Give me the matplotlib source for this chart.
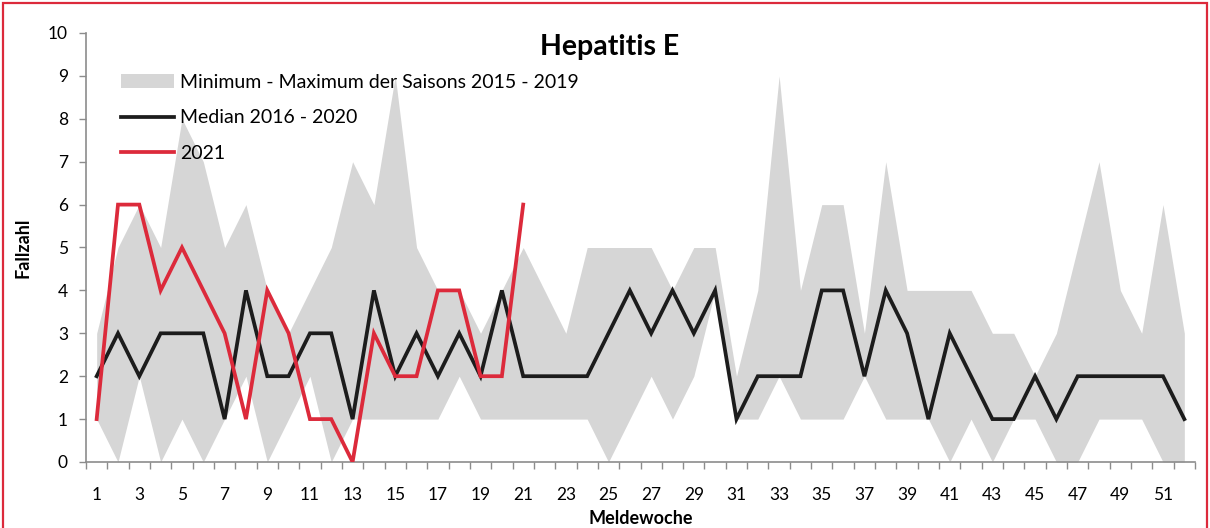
import numpy as np
import matplotlib.pyplot as plt
from matplotlib.patches import Rectangle

# ------------------------------------------------------------------
# Data
# ------------------------------------------------------------------
weeks = list(range(1, 53))

band_max = [3, 5, 6, 5, 8, 7, 5, 6, 4, 3, 4, 5, 7, 6, 9, 5, 4, 4, 3, 4,
            5, 4, 3, 5, 5, 5, 5, 4, 5, 5, 2, 4, 9, 4, 6, 6, 3, 7, 4, 4,
            4, 4, 3, 3, 2, 3, 5, 7, 4, 3, 6, 3]

band_min = [1, 0, 2, 0, 1, 0, 1, 2, 0, 1, 2, 0, 1, 1, 1, 1, 1, 2, 1, 1,
            1, 1, 1, 1, 0, 1, 2, 1, 2, 4, 1, 1, 2, 1, 1, 1, 2, 1, 1, 1,
            0, 1, 0, 1, 1, 0, 0, 1, 1, 1, 0, 0]

median = [2, 3, 2, 3, 3, 3, 1, 4, 2, 2, 3, 3, 1, 4, 2, 3, 2, 3, 2, 4,
          2, 2, 2, 2, 3, 4, 3, 4, 3, 4, 1, 2, 2, 2, 4, 4, 2, 4, 3, 1,
          3, 2, 1, 1, 2, 1, 2, 2, 2, 2, 2, 1]

weeks_2021 = list(range(1, 22))
cases_2021 = [1, 6, 6, 4, 5, 4, 3, 1, 4, 3, 1, 1, 0, 3, 2, 2, 4, 4, 2, 2, 6]

title = "Hepatitis E"
label_band = "Minimum - Maximum der Saisons 2015 - 2019"
label_median = "Median 2016 - 2020"
label_2021 = "2021"

# ------------------------------------------------------------------
# Plot
# ------------------------------------------------------------------
plt.rcParams['font.family'] = ['Lato', 'DejaVu Sans']

fig = plt.figure(figsize=(12.1, 5.28), dpi=100)
ax = fig.add_axes([86 / 1210, 66 / 528, 1109 / 1210, 429 / 528])

axis_grey = '#8c8c8c'
band_grey = '#d6d6d6'
red = '#dc2a3b'

ax.fill_between(weeks, band_min, band_max, color=band_grey, lw=0,
                label=label_band, zorder=1)
ax.plot(weeks, median, color='#1c1c1c', lw=2.7, label=label_median,
        solid_joinstyle='miter', zorder=3)
ax.plot(weeks_2021, cases_2021, color=red, lw=2.7, label=label_2021,
        solid_joinstyle='miter', zorder=4)

ax.set_xlim(0.5, 52.5)
ax.set_ylim(0, 10)

# y axis
ax.set_yticks(range(0, 11))
ax.tick_params(axis='y', direction='out', length=5, width=1,
               color=axis_grey, pad=8, labelsize=12.5)

# x axis: tick marks between weeks, labels on odd weeks
ax.set_xticks(np.arange(0.5, 53, 1.0))
ax.set_xticklabels([])
ax.tick_params(axis='x', which='major', direction='out', length=5,
               width=1, color=axis_grey)
odd_weeks = weeks[::2]
ax.set_xticks(odd_weeks, [str(w) for w in odd_weeks], minor=True)
ax.tick_params(axis='x', which='minor', length=0, pad=18, labelsize=12.5)

for side in ['top', 'right']:
    ax.spines[side].set_visible(False)
for side in ['left', 'bottom']:
    ax.spines[side].set_color(axis_grey)
    ax.spines[side].set_linewidth(1.2)

ax.set_ylabel("Fallzahl", fontsize=13, fontweight='bold', labelpad=12)
ax.set_xlabel("Meldewoche", fontsize=13, fontweight='bold', labelpad=5)

fig.text(610 / 1210, 1 - 47 / 528, title, ha='center', va='center',
         fontsize=20.5, fontweight='bold')

leg = ax.legend(loc='upper left', bbox_to_anchor=(35 / 1109, 1 - 41 / 429),
                frameon=False, fontsize=14, handlelength=2.75,
                handleheight=0.75, handletextpad=0.3, labelspacing=0.95,
                borderpad=0, borderaxespad=0)

# red frame around the whole picture
fig.patches.append(Rectangle((3 / 1210, -0.05), 1204 / 1210, 1.05 - 3 / 528,
                             transform=fig.transFigure, fill=False,
                             edgecolor=red, lw=1.6))

fig.savefig("out.png", dpi=100)
